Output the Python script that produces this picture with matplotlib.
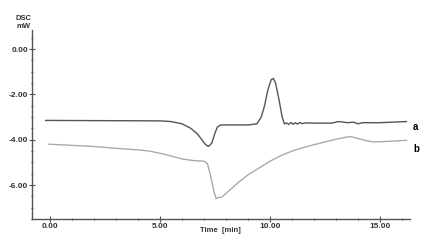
import matplotlib
matplotlib.use("Agg")
import matplotlib.pyplot as plt
from matplotlib.ticker import MultipleLocator

plt.rcParams["font.family"] = ["Liberation Sans", "DejaVu Sans"]

# Curve a (dark)
t_a = [-0.2, 5.0, 5.5, 6.0, 6.4, 6.7, 6.9, 7.05, 7.2, 7.35, 7.5, 7.6, 7.75, 8.5, 9.0,
       9.4, 9.6, 9.75, 9.9, 10.05, 10.15, 10.25, 10.4, 10.55, 10.65, 10.75, 10.85,
       10.95, 11.05, 11.15, 11.25, 11.35, 11.45, 11.6, 12.0, 12.8, 13.1, 13.3, 13.5,
       13.8, 14.0, 14.2, 15.0, 16.2]
v_a = [-3.15, -3.17, -3.2, -3.3, -3.5, -3.75, -4.0, -4.2, -4.3, -4.15, -3.7, -3.45,
       -3.35, -3.35, -3.35, -3.3, -3.0, -2.5, -1.8, -1.35, -1.3, -1.5, -2.2, -3.0,
       -3.3, -3.26, -3.33, -3.24, -3.32, -3.25, -3.31, -3.24, -3.29, -3.26, -3.27,
       -3.27, -3.2, -3.22, -3.25, -3.23, -3.3, -3.25, -3.25, -3.2]

# Curve b (light)
t_b = [-0.05, 1, 2, 3, 4, 4.5, 5.0, 5.5, 6.0, 6.5, 7.0, 7.15, 7.3, 7.45, 7.55, 7.65,
       7.8, 7.9, 8.2, 8.6, 9.0, 9.5, 10.0, 10.5, 11.0, 11.5, 12.0, 12.5, 13.0, 13.5,
       13.7, 14.0, 14.4, 14.7, 15.2, 16.2]
v_b = [-4.2, -4.25, -4.3, -4.38, -4.45, -4.5, -4.6, -4.72, -4.85, -4.92, -4.95, -5.05,
       -5.6, -6.3, -6.6, -6.55, -6.55, -6.45, -6.2, -5.85, -5.55, -5.25, -4.95, -4.7,
       -4.5, -4.35, -4.22, -4.1, -3.98, -3.88, -3.87, -3.95, -4.05, -4.1, -4.08, -4.03]

x_ticks = [0, 5, 10, 15]
x_labels = ["0.00", "5.00", "10.00", "15.00"]
y_ticks = [0, -2, -4, -6]
y_labels = ["0.00", "-2.00", "-4.00", "-6.00"]

fig = plt.figure(figsize=(4.35, 2.5), dpi=100)
ax = fig.add_axes([32/435, 1-219/250, (410-32)/435, (219-30)/250])

ax.plot(t_a, v_a, color="#555555", lw=1.0)
ax.plot(t_b, v_b, color="#aaaaaa", lw=1.0)

ax.set_xlim(-0.82, 16.36)
ax.set_ylim(-7.5, 0.84)

for s in ["top", "right"]:
    ax.spines[s].set_visible(False)
for s in ["left", "bottom"]:
    ax.spines[s].set_color("#555555")
    ax.spines[s].set_linewidth(1.0)

ax.set_xticks(x_ticks)
ax.set_xticklabels(x_labels)
ax.set_yticks(y_ticks)
ax.set_yticklabels(y_labels)
ax.xaxis.set_minor_locator(MultipleLocator(1))
ax.yaxis.set_minor_locator(MultipleLocator(0.5))
ax.tick_params(which="both", direction="inout", color="#555555", width=0.8)
ax.tick_params(which="major", length=4, labelsize=6, pad=1)
ax.tick_params(which="minor", length=2)
for lab in ax.get_xticklabels() + ax.get_yticklabels():
    lab.set_fontweight("bold")
    lab.set_color("#333333")

fig.text(24/435, 1-18/250, "DSC", fontsize=5.5, fontweight="bold", ha="center", va="center", color="#333333")
fig.text(24/435, 1-26/250, "mW", fontsize=5.5, fontweight="bold", ha="center", va="center", color="#333333")
fig.text(220/435, 1-231/250, "Time  [min]", fontsize=5.5, fontweight="bold", ha="center", va="center", color="#333333")

ax.text(16.5, -3.42, "a", fontsize=7, fontweight="bold", ha="left", va="center", clip_on=False)
ax.text(16.5, -4.4, "b", fontsize=7, fontweight="bold", ha="left", va="center", clip_on=False)

fig.savefig("out.png", dpi=100)
